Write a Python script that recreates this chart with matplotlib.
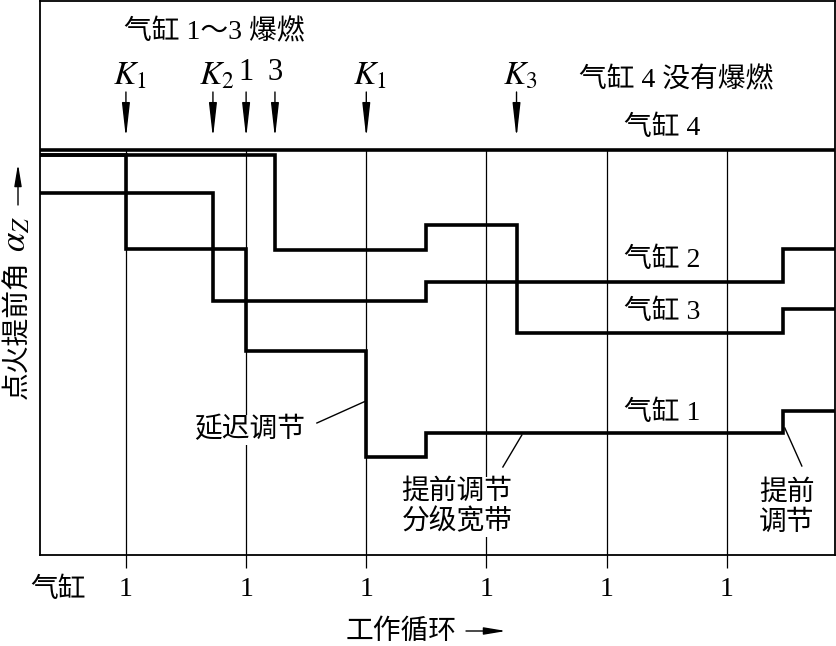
import matplotlib
matplotlib.use('Agg')
import matplotlib.pyplot as plt

plt.rcParams['font.family'] = ['Liberation Serif', 'Noto Sans CJK SC']
plt.rcParams['mathtext.fontset'] = 'stix'

# ---------------- data ----------------
cycles = [1, 2, 3, 4, 5, 6]
cycle_labels = ['1', '1', '1', '1', '1', '1']
x_min, x_max = 0.285, 6.9
y_min, y_max = 0.0, 55.4

cyl4_level = 40.5
cyl1_edges = [0.285, 1.0, 2.0, 3.0, 3.5, 6.47, 6.9]
cyl1_vals = [40.0, 30.6, 20.4, 9.8, 12.2, 14.4]
cyl2_edges = [0.285, 1.724, 3.5, 6.47, 6.9]
cyl2_vals = [36.2, 25.4, 27.3, 30.6]
cyl3_edges = [0.285, 2.24, 3.5, 4.25, 6.47, 6.9]
cyl3_vals = [40.0, 30.5, 33.0, 22.2, 24.6]

event_labels = ['$K_1$', '$K_2$', '1', '3', '$K_1$', '$K_3$']
event_x = [1.0, 1.724, 2.0, 2.24, 3.0, 4.25]

series_labels = ['气缸 2', '气缸 3', '气缸 1']
series_label_y = [29.5, 24.3, 14.2]

# --------------- figure ---------------
W, H = 837, 646
fig = plt.figure(figsize=(W / 100, H / 100), dpi=100)
ax = fig.add_axes([40 / W, 91 / H, 795 / W, 554 / H])
ax.set_xlim(x_min, x_max)
ax.set_ylim(y_min, y_max)
ax.set_xticks([])
ax.set_yticks([])
for s in ax.spines.values():
    s.set_linewidth(1.3)
    s.set_color('black')


def px(xp):
    return (xp - 126) / 120.2 + 1


def py(yp):
    return (555 - yp) / 10


FS = 20
white = dict(facecolor='white', edgecolor='none', pad=1.0)
ARROW = '-|>,head_length=1.5,head_width=0.17'
ARROW_SMALL = '-|>,head_length=1.2,head_width=0.2'

# thin cycle lines
ax.vlines(cycles, py(568), cyl4_level, color='black', lw=0.9, clip_on=False, zorder=1)

# step curves
lw_step = 2.6
for edges, vals in [(cyl1_edges, cyl1_vals), (cyl2_edges, cyl2_vals), (cyl3_edges, cyl3_vals)]:
    ax.step(edges, list(vals) + [vals[-1]], where='post', color='black', lw=lw_step,
            solid_joinstyle='miter', solid_capstyle='butt', zorder=3)
ax.axhline(cyl4_level, color='black', lw=lw_step, zorder=3)

# bottom cycle labels
for c, lab in zip(cycles, cycle_labels):
    ax.text(c, py(590), lab, ha='center', va='center', fontsize=FS, clip_on=False)
ax.text(px(58), py(590), '气缸', ha='center', va='center', fontsize=FS, clip_on=False)

# event arrows
for x, lab in zip(event_x, event_labels):
    ax.annotate('', xy=(x, py(138)), xytext=(x, py(92)),
                arrowprops=dict(arrowstyle=ARROW, mutation_scale=14,
                                color='black', lw=1.0, shrinkA=0, shrinkB=0))
    if lab.startswith('$'):
        ax.text(x + 0.03, py(76), lab, ha='center', va='center', fontsize=24)
    else:
        ax.text(x, py(72), lab, ha='center', va='center', fontsize=22)

# top annotations
ax.text(px(214), py(32), '气缸 1～3 爆燃', ha='center', va='center', fontsize=FS)
ax.text(px(676), py(80), '气缸 4 没有爆燃', ha='center', va='center', fontsize=FS)
ax.text(px(662), py(128), '气缸 4', ha='center', va='center', fontsize=FS)

for lab, y in zip(series_labels, series_label_y):
    ax.text(px(662), y, lab, ha='center', va='center', fontsize=FS, bbox=white, zorder=4)

# callouts
ax.text(px(250), py(430), '延迟调节', ha='center', va='center', fontsize=FS, bbox=white, zorder=4)
ax.plot([px(317), px(366)], [py(423), py(401)], color='black', lw=1.0, zorder=2)

ax.text(px(457), py(507), '提前调节\n分级宽带', ha='center', va='center', fontsize=FS,
        linespacing=1.2, bbox=white, zorder=4)
ax.plot([px(503), px(522)], [py(467), py(435)], color='black', lw=1.0, zorder=2)

ax.text(px(787), py(508), '提前\n调节', ha='center', va='center', fontsize=FS,
        linespacing=1.2, bbox=white, zorder=4)
ax.plot([px(802), px(785)], [py(466), py(428)], color='black', lw=1.0, zorder=2)

# axis titles
fig.text(18 / W, 1 - 330 / H, '点火提前角', rotation=90, ha='center', va='center', fontsize=FS)
fig.text(17 / W, 1 - 234 / H, r'$\alpha_Z$', rotation=90, ha='center', va='center', fontsize=25)
fig.add_artist(matplotlib.patches.FancyArrowPatch(
    (18 / W, 1 - 205 / H), (18 / W, 1 - 164 / H), transform=fig.transFigure,
    arrowstyle=ARROW_SMALL, color='black', lw=1.0,
    shrinkA=0, shrinkB=0, mutation_scale=11))

fig.text(401 / W, 1 - 632 / H, '工作循环', ha='center', va='center', fontsize=FS)
fig.add_artist(matplotlib.patches.FancyArrowPatch(
    (466 / W, 1 - 631 / H), (506 / W, 1 - 631 / H), transform=fig.transFigure,
    arrowstyle=ARROW_SMALL, color='black', lw=1.0,
    shrinkA=0, shrinkB=0, mutation_scale=11))

fig.savefig('out.png', dpi=100)
